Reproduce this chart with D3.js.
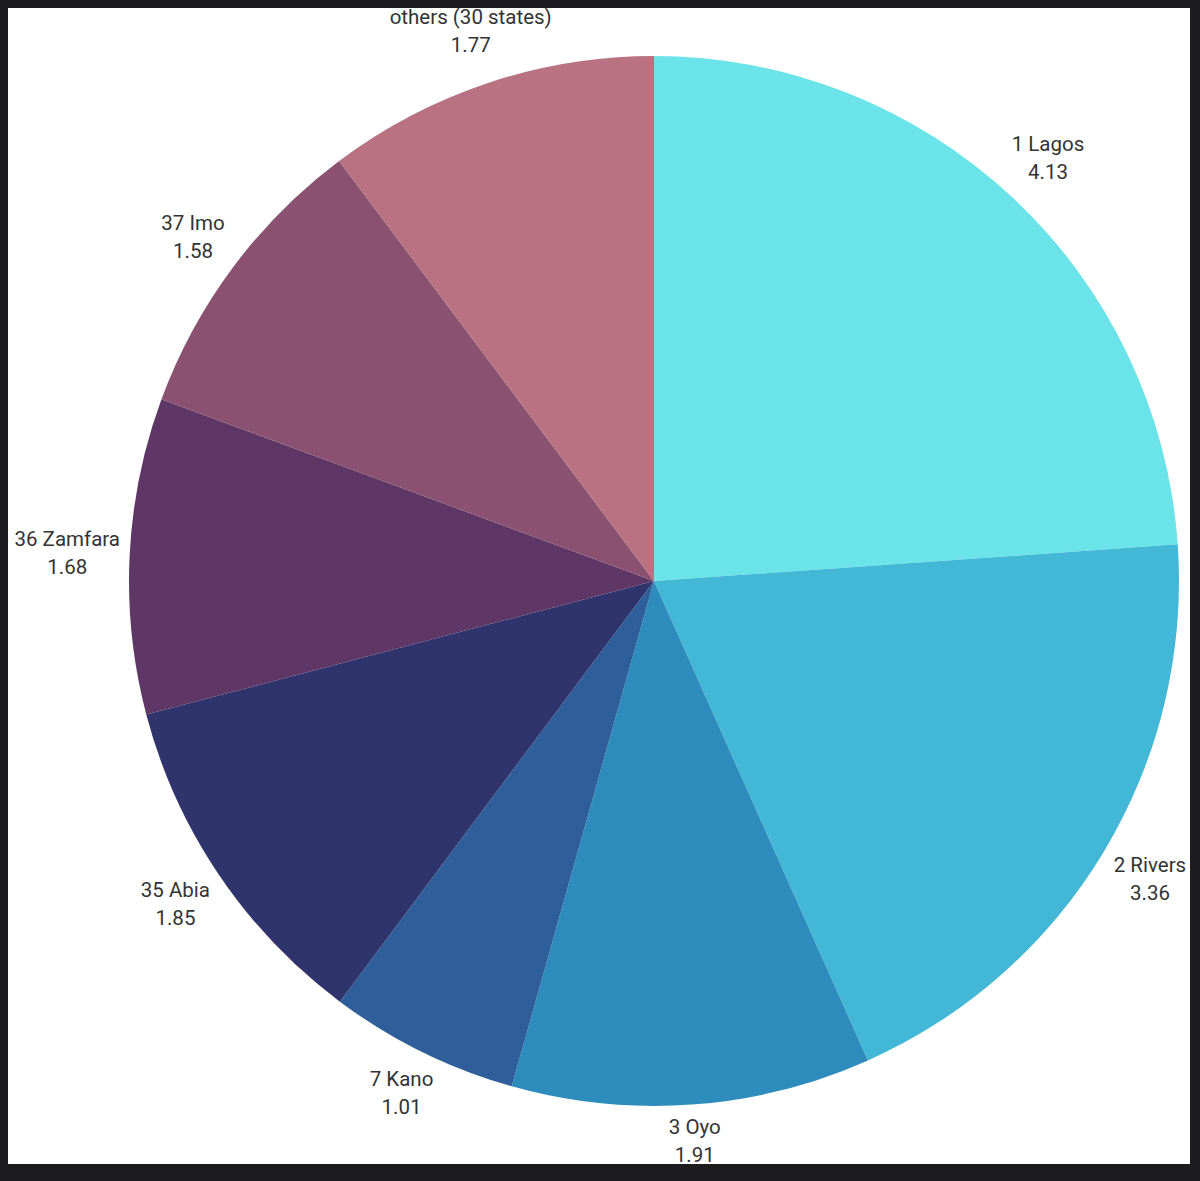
<!DOCTYPE html>
<html><head><meta charset="utf-8">
<script src="https://cdn.jsdelivr.net/npm/d3@7"></script>
<style>html,body{margin:0;padding:0;background:#1c1c1e;}svg{display:block;}</style>
</head><body>
<script>
const labels = ["1 Lagos","2 Rivers","3 Oyo","7 Kano","35 Abia","36 Zamfara","37 Imo","others (30 states)"];
const values = [4.13,3.36,1.91,1.01,1.85,1.68,1.58,1.77];
const valueLabels = ["4.13","3.36","1.91","1.01","1.85","1.68","1.58","1.77"];
const colors = ["#6ae4e8","#42b8d6","#2e8cbc","#2e5f9a","#30346c","#5e3766","#8a5270","#b87282"];

const W=1200,H=1181, cx=654, cy=581, R=525, GAP=9, LINE=28;
const svg=d3.select("body").append("svg").attr("width",W).attr("height",H);
svg.append("rect").attr("width",W).attr("height",H).attr("fill","#1c1c1e");
svg.append("rect").attr("x",8).attr("y",8).attr("width",1182).attr("height",1156).attr("fill","#ffffff");
const data=labels.map((l,i)=>({label:l,value:values[i],vl:valueLabels[i],color:colors[i]}));
const pie=d3.pie().value(d=>d.value).sort(null);
const arc=d3.arc().innerRadius(0).outerRadius(R);
const g=svg.append("g").attr("transform",`translate(${cx},${cy})`);
const arcs=pie(data);
g.selectAll("path").data(arcs).join("path").attr("d",arc).attr("fill",d=>d.data.color);
const t=g.selectAll("text").data(arcs).join("text")
  .attr("text-anchor","middle").attr("font-family","Roboto, Lato, sans-serif")
  .attr("font-size",20.5).attr("fill","#333");
t.append("tspan").attr("x",0).attr("y",0).text(d=>d.data.label);
t.append("tspan").attr("x",0).attr("y",LINE).text(d=>d.data.vl);
// place each label box along its mid-angle so that its nearest point is R+GAP from centre
t.each(function(d){
  const bb=this.getBBox();
  const a=(d.startAngle+d.endAngle)/2, ux=Math.sin(a), uy=-Math.cos(a);
  const ox=bb.x+bb.width/2, oy=bb.y+bb.height/2;
  const dist=(r)=>{
    const bx=r*ux, by=r*uy, hw=bb.width/2, hh=bb.height/2;
    const nx=Math.max(bx-hw,Math.min(0,bx+hw)), ny=Math.max(by-hh,Math.min(0,by+hh));
    return Math.hypot(nx,ny);
  };
  let lo=0, hi=R+400;
  for(let k=0;k<60;k++){const m=(lo+hi)/2; if(dist(m)<R+GAP) lo=m; else hi=m;}
  d3.select(this).attr("transform",`translate(${hi*ux-ox},${hi*uy-oy})`);
});
</script>
</body></html>
